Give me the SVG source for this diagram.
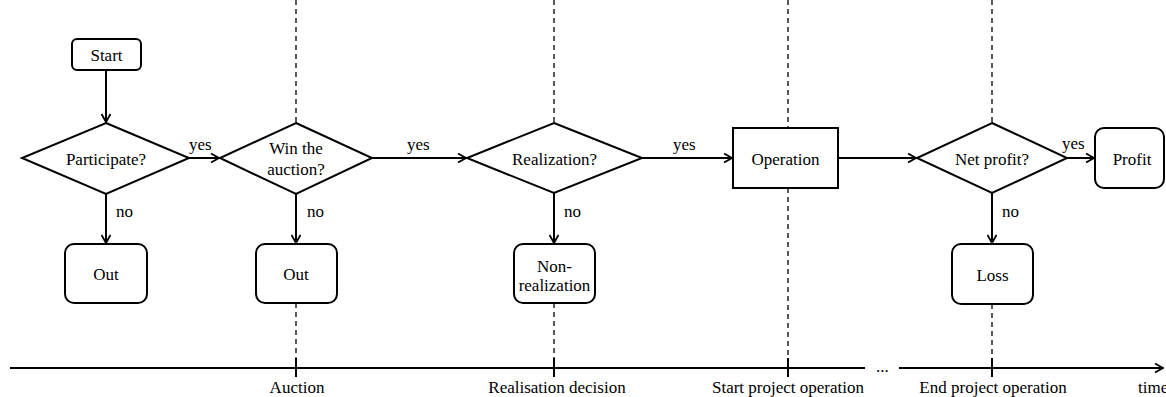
<svg xmlns="http://www.w3.org/2000/svg" width="1166" height="397" viewBox="0 0 1166 397">
<style>
text{font-size:17px;fill:#000}
.c{text-anchor:middle}
.shape{fill:#fff;stroke:#000;stroke-width:2}
.line{fill:none;stroke:#000;stroke-width:2}
.dash{fill:none;stroke:#000;stroke-width:1.3;stroke-dasharray:5,4}
.axis{fill:none;stroke:#000;stroke-width:2}
</style>
<defs>
<marker id="arr" viewBox="0 0 10 10" refX="9" refY="5" markerWidth="10" markerHeight="10" markerUnits="userSpaceOnUse" orient="auto">
<path d="M1,0.5 L9,5 L1,9.5" fill="none" stroke="#000" stroke-width="1.8"/>
</marker>
</defs>
<rect width="1166" height="397" fill="#fff"/>

<g id="timeline">
<path class="dash" d="M296,0 V123 M296,303 V368 M554,0 V123 M554,303 V368 M788,0 V128 M788,188 V368 M992,0 V123 M992,304 V368"/>
<path class="axis" d="M10,368 H865 M899,368 H1163" marker-end="url(#arr)"/>
<text font-family="Liberation Serif" x="876" y="372">...</text>
<path class="axis" d="M296,358 V377 M554,358 V377 M788,358 V377 M992,358 V377"/>
<text font-family="Liberation Serif" class="c" x="297" y="393">Auction</text>
<text font-family="Liberation Serif" class="c" x="557" y="393">Realisation decision</text>
<text font-family="Liberation Serif" class="c" x="788" y="393">Start project operation</text>
<text font-family="Liberation Serif" class="c" x="993" y="393">End project operation</text>
<text font-family="Liberation Serif" x="1138" y="393">time</text>
</g>

<g id="connectors">
<path class="line" d="M106,70 V122" marker-end="url(#arr)"/>
<path class="line" d="M189,158 H219" marker-end="url(#arr)"/>
<path class="line" d="M106,194 V243" marker-end="url(#arr)"/>
<path class="line" d="M296,194 V243" marker-end="url(#arr)"/>
<path class="line" d="M372,158 H466" marker-end="url(#arr)"/>
<path class="line" d="M554,193 V243" marker-end="url(#arr)"/>
<path class="line" d="M642,158 H732" marker-end="url(#arr)"/>
<path class="line" d="M838,158 H916" marker-end="url(#arr)"/>
<path class="line" d="M1067,158 H1094" marker-end="url(#arr)"/>
<path class="line" d="M992,193 V243" marker-end="url(#arr)"/>
<text font-family="Liberation Serif" x="189" y="150">yes</text>
<text font-family="Liberation Serif" x="407" y="150">yes</text>
<text font-family="Liberation Serif" x="673" y="150">yes</text>
<text font-family="Liberation Serif" x="1062" y="149">yes</text>
<text font-family="Liberation Serif" x="116" y="217">no</text>
<text font-family="Liberation Serif" x="307" y="217">no</text>
<text font-family="Liberation Serif" x="564" y="217">no</text>
<text font-family="Liberation Serif" x="1002" y="217">no</text>
</g>

<g id="start">
<rect class="shape" x="72" y="39" width="69" height="31" rx="5"/>
<text font-family="Liberation Serif" class="c" x="106.5" y="61">Start</text>
</g>
<g id="participate">
<polygon class="shape" points="106,123 189,158 106,194 22,158"/>
<text font-family="Liberation Serif" class="c" x="106" y="165">Participate?</text>
</g>
<g id="out1">
<rect class="shape" x="65" y="244" width="82" height="59" rx="9"/>
<text font-family="Liberation Serif" class="c" x="106" y="280">Out</text>
</g>
<g id="win">
<polygon class="shape" points="296,123 372,158 296,194 220,158"/>
<text font-family="Liberation Serif" class="c" x="296" y="154">Win the</text>
<text font-family="Liberation Serif" class="c" x="296" y="175">auction?</text>
</g>
<g id="out2">
<rect class="shape" x="256" y="244" width="81" height="59" rx="9"/>
<text font-family="Liberation Serif" class="c" x="296" y="280">Out</text>
</g>
<g id="realization">
<polygon class="shape" points="554,123 642,158 554,193 467,158"/>
<text font-family="Liberation Serif" class="c" x="554.5" y="165">Realization?</text>
</g>
<g id="nonrealization">
<rect class="shape" x="514" y="244" width="81" height="59" rx="9"/>
<text font-family="Liberation Serif" class="c" x="554.5" y="272">Non-</text>
<text font-family="Liberation Serif" class="c" x="554.5" y="291">realization</text>
</g>
<g id="operation">
<rect class="shape" x="733" y="128" width="105" height="60"/>
<text font-family="Liberation Serif" class="c" x="785.5" y="165">Operation</text>
</g>
<g id="netprofit">
<polygon class="shape" points="992,123 1067,158 992,193 917,158"/>
<text font-family="Liberation Serif" class="c" x="992" y="165">Net profit?</text>
</g>
<g id="profit">
<rect class="shape" x="1095" y="128" width="69" height="60" rx="9"/>
<text font-family="Liberation Serif" class="c" x="1132" y="165">Profit</text>
</g>
<g id="loss">
<rect class="shape" x="952" y="244" width="81" height="60" rx="9"/>
<text font-family="Liberation Serif" class="c" x="992.5" y="281">Loss</text>
</g>
</svg>
